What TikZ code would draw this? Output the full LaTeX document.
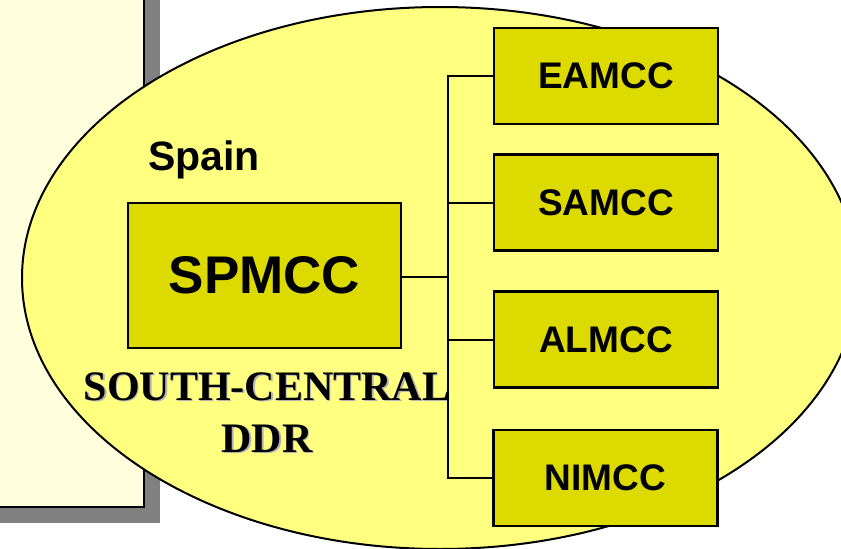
\documentclass[tikz,border=0pt]{standalone}
\usepackage{fontspec}
\setmainfont{Liberation Sans}
\newfontfamily\ddrfont{Liberation Serif}
\definecolor{ovalyellow}{RGB}{255,255,128}
\definecolor{paleyellow}{RGB}{255,255,221}
\definecolor{boxyellow}{RGB}{221,218,0}
\definecolor{shadowgray}{RGB}{128,128,128}
\tikzset{mccbox/.style={
    rectangle,
    draw,
    line width=2.5pt,
    fill=boxyellow,
    inner sep=0pt,
    minimum width=224pt,
    minimum height=96pt,
    font=\fontsize{37}{44}\selectfont\bfseries
  },
  bigbox/.style={mccbox,minimum width=273pt,minimum height=145pt,
    font=\fontsize{53}{60}\selectfont\bfseries},
  ddrtext/.style={align=center,inner sep=0pt,
    font=\ddrfont\fontsize{42}{52}\selectfont\bfseries},
  link/.style={line width=2pt},
}

\begin{document}
\begin{tikzpicture}[x=1pt,y=-1pt]
  \useasboundingbox (0,0) rectangle (841,549);
  \clip (0,0) rectangle (841,549);
  % left panel with its shadow
  \fill[shadowgray] (0,-20) rectangle (160,523);
  \draw[fill=paleyellow,line width=2pt] (-10,-30) rectangle (144,507);
  % the region
  \draw[fill=ovalyellow,line width=2pt] (440,278) ellipse [x radius=418pt,y radius=271pt];
  \node[anchor=base west,inner sep=0pt,font=\fontsize{41}{48}\selectfont\bfseries] (spain) at (148,170) {Spain};
  \node[bigbox] (spmcc) at (264.5,275.5) {SPMCC};
  \node[mccbox] (eamcc) at (606,76) {EAMCC};
  \node[mccbox] (samcc) at (606,202.5) {SAMCC};
  \node[mccbox] (almcc) at (606,339.5) {ALMCC};
  \node[mccbox] (nimcc) at (605.5,478) {NIMCC};
  \node[ddrtext,text=shadowgray!60,anchor=base] (ddrsh) at (268.5,453.5) {SOUTH-CENTRAL\\DDR};
  \node[ddrtext,anchor=base] (ddr) at (267,452) {SOUTH-CENTRAL\\DDR};
  \coordinate (jn) at (448,277);
  \draw[link] (spmcc.east |- jn) -- (jn);
  \foreach \b in {eamcc,samcc,almcc,nimcc}
    \draw[link] (jn) |- (\b.west);
\end{tikzpicture}
\end{document}
